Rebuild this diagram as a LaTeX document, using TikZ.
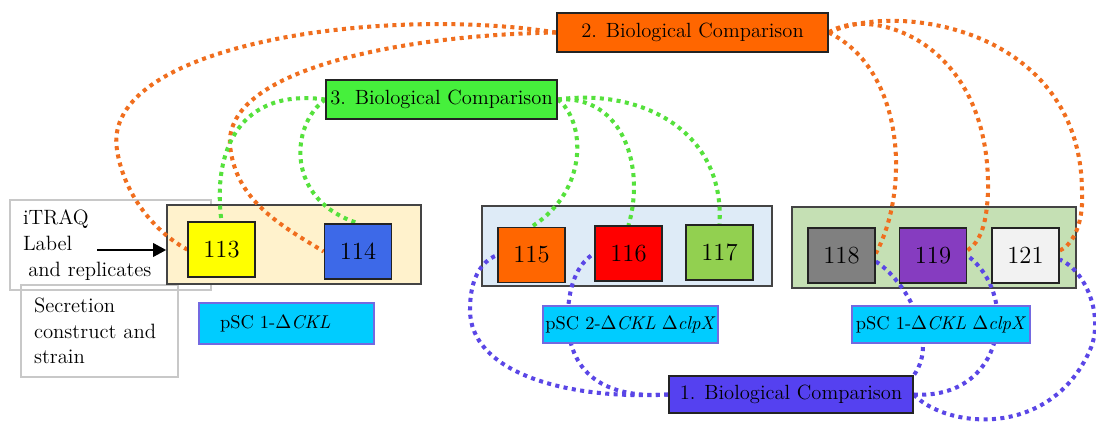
\documentclass[tikz,border=0pt]{standalone}
\usetikzlibrary{arrows.meta}

\definecolor{cmpOrange}{RGB}{255,102,0}
\definecolor{cmpGreen}{RGB}{70,240,60}
\definecolor{cmpBlue}{RGB}{85,65,240}
\definecolor{linkOrange}{RGB}{240,110,30}
\definecolor{linkGreen}{RGB}{85,225,60}
\definecolor{linkBlue}{RGB}{90,70,230}
\definecolor{grpCream}{RGB}{255,242,204}
\definecolor{grpSky}{RGB}{222,235,247}
\definecolor{grpSage}{RGB}{197,224,180}
\definecolor{tagCyan}{RGB}{0,204,255}
\definecolor{tagEdge}{RGB}{115,105,225}
\definecolor{noteEdge}{RGB}{200,200,200}
\definecolor{edgeDark}{RGB}{35,35,35}
\definecolor{cYellow}{RGB}{255,255,0}
\definecolor{cRoyal}{RGB}{61,105,232}
\definecolor{cOrange}{RGB}{255,102,0}
\definecolor{cRed}{RGB}{255,0,0}
\definecolor{cLime}{RGB}{146,208,80}
\definecolor{cGray}{RGB}{128,128,128}
\definecolor{cViolet}{RGB}{134,60,192}
\definecolor{cPale}{RGB}{242,242,242}

\pgfdeclarelayer{bg}
\pgfdeclarelayer{links}
\pgfsetlayers{bg,links,main}

\begin{document}
\begin{tikzpicture}[x=0.02cm,y=-0.02cm,
  cmpbox/.style={draw=edgeDark, line width=0.9pt, inner sep=1pt,
    minimum height=0.78cm, font=\fontsize{11.7}{14}\selectfont},
  numbox/.style={draw=edgeDark, line width=0.9pt, inner sep=1pt,
    minimum width=1.34cm, minimum height=1.1cm, font=\fontsize{14}{16}\selectfont},
  grpbox/.style={draw=edgeDark!85, line width=0.8pt},
  tagbox/.style={draw=tagEdge, fill=tagCyan, line width=0.9pt, inner sep=1pt,
    minimum width=3.5cm, minimum height=0.74cm, font=\fontsize{10.5}{12}\selectfont},
  notebox/.style={draw=noteEdge, line width=0.9pt, align=left, inner xsep=0.26cm,
    inner ysep=0pt, font=\fontsize{11.8}{14.6}\selectfont},
  link/.style={line width=2.3pt, dash pattern=on 2.3pt off 2.5pt}
]
\useasboundingbox (0,0) rectangle (1096,430);

% left-hand legend boxes and the three strain groups
\begin{pgfonlayer}{bg}
  \node[notebox, text width=3.5cm, minimum height=1.8cm] (itraq) at (110.5,245)
    {iTRAQ\\Label\\\hspace*{3pt}and replicates};
  \node[notebox, text width=2.62cm, minimum height=1.84cm] (secr) at (99.5,331)
    {Secretion\\construct and\\strain};
  \node[grpbox, fill=grpCream, minimum width=5.08cm, minimum height=1.58cm] (g1) at (294,244.5) {};
  \node[grpbox, fill=grpSky,   minimum width=5.80cm, minimum height=1.60cm] (g2) at (627,246) {};
  \node[grpbox, fill=grpSage,  minimum width=5.68cm, minimum height=1.62cm] (g3) at (934,247.5) {};
\end{pgfonlayer}

% comparison boxes
\node[cmpbox, fill=cmpOrange, minimum width=5.42cm] (b2) at (692.5,32.5) {2. Biological Comparison};
\node[cmpbox, fill=cmpGreen,  minimum width=4.62cm] (b3) at (441.5,99.5) {3. Biological Comparison};
\node[cmpbox, fill=cmpBlue,   minimum width=4.88cm, minimum height=0.74cm] (b1) at (791,394.5) {1. Biological Comparison};

% iTRAQ channels
\node[numbox, fill=cYellow] (n113) at (221.5,249.5) {113};
\node[numbox, fill=cRoyal]  (n114) at (358,251.5)   {114};
\node[numbox, fill=cOrange] (n115) at (531.5,255)   {115};
\node[numbox, fill=cRed]    (n116) at (628.5,253.5) {116};
\node[numbox, fill=cLime]   (n117) at (719.5,252.5) {117};
\node[numbox, fill=cGray]   (n118) at (841.5,255.5) {118};
\node[numbox, fill=cViolet] (n119) at (933,255.5)   {119};
\node[numbox, fill=cPale]   (n121) at (1025.5,255.5) {121};

% strain labels
\node[tagbox, minimum height=0.82cm, align=left, text width=2.66cm, inner xsep=0.42cm] (s1) at (286.5,323.5)
  {pSC 1-$\Delta$\textit{CKL}};
\node[tagbox] (s2) at (630.5,324.5) {pSC 2-$\Delta$\textit{CKL} $\Delta$\textit{clpX}};
\node[tagbox, minimum width=3.56cm] (s3) at (941,324.5) {pSC 1-$\Delta$\textit{CKL} $\Delta$\textit{clpX}};

% arrow from the legend into the first group
\coordinate (atail) at (97,250);
\draw[line width=1.7pt, -{Triangle[length=7.5pt,width=7.5pt]}] (atail) -- (atail -| g1.west);

% dotted comparison links
\begin{pgfonlayer}{links}
  % comparison 2
  \draw[link, linkOrange] (b2.west) .. controls (380,5) and (100,45) .. (117,150)
        .. controls (125,200) and (160,235) .. (n113.west);
  \draw[link, linkOrange] (b2.west) .. controls (400,35) and (225,70) .. (230,145)
        .. controls (235,200) and (280,225) .. (n114.west);
  \draw[link, linkOrange] (b2.east) .. controls (905,70) and (910,190) .. ([yshift=0.04cm]n118.east);
  \draw[link, linkOrange] (b2.east) .. controls (870,5) and (990,40) .. (988,190)
        .. controls (987,225) and (980,242) .. ([yshift=0.1cm]n119.east);
  \draw[link, linkOrange] (b2.east) .. controls (900,0) and (1080,30) .. (1082,190)
        .. controls (1084,225) and (1072,245) .. ([yshift=0.1cm]n121.east);
  % comparison 3
  \draw[link, linkGreen] (b3.west) .. controls (240,88) and (212,150) .. (n113.north);
  \draw[link, linkGreen] (b3.west) .. controls (290,125) and (285,200) .. (n114.north);
  \draw[link, linkGreen] (b3.east) .. controls (585,120) and (590,190) .. (n115.north);
  \draw[link, linkGreen] (b3.east) .. controls (625,95) and (645,170) .. (n116.north);
  \draw[link, linkGreen] (b3.east) .. controls (640,88) and (725,130) .. (n117.north);
  % comparison 1
  \draw[link, linkBlue] (b1.west) .. controls (560,400) and (470,370) .. (470,310)
        .. controls (470,280) and (480,262) .. (n115.west);
  \draw[link, linkBlue] (b1.west) .. controls (590,400) and (565,360) .. (568,310)
        .. controls (570,280) and (580,262) .. (n116.west);
  \draw[link, linkBlue] ([yshift=-0.12cm]n118.east) .. controls (905,280) and (940,340) .. (b1.north east);
  \draw[link, linkBlue] (b1.east) .. controls (1005,400) and (1020,295) .. (n119.east);
  \draw[link, linkBlue] (b1.east) .. controls (945,428) and (1050,440) .. (1090,350)
        .. controls (1105,316) and (1085,270) .. ([yshift=-0.08cm]n121.east);
\end{pgfonlayer}
\end{tikzpicture}
\end{document}
